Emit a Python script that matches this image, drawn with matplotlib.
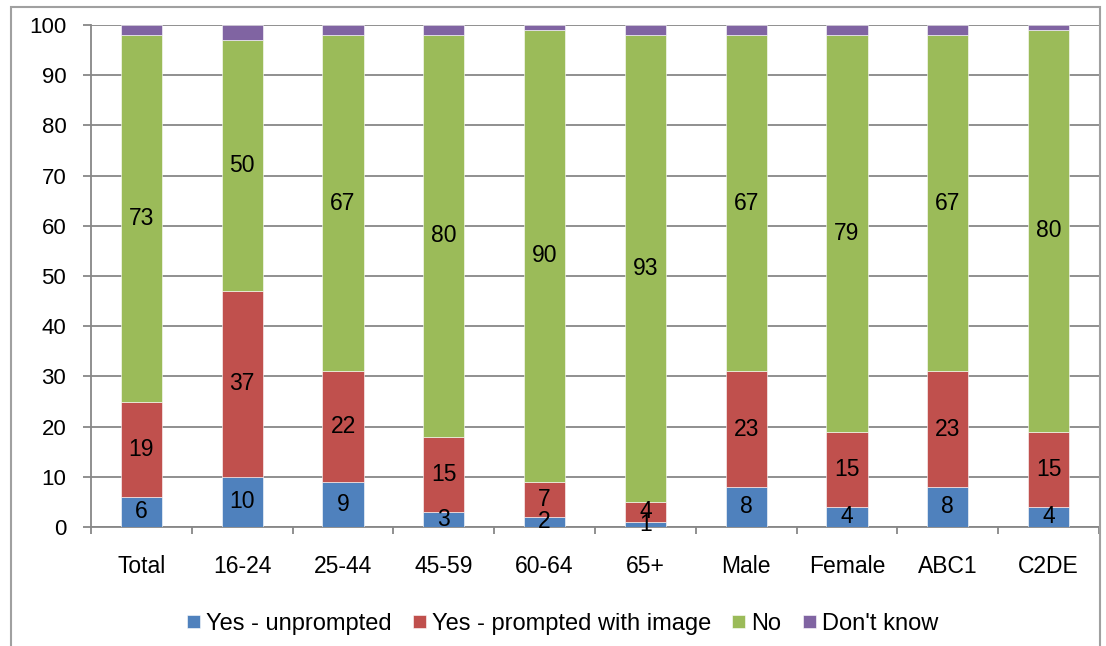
import matplotlib
matplotlib.use("Agg")
import matplotlib.pyplot as plt
from matplotlib.patches import Rectangle
import numpy as np

plt.rcParams['font.family'] = ['Liberation Sans', 'DejaVu Sans']

categories = ["Total", "16-24", "25-44", "45-59", "60-64", "65+", "Male", "Female", "ABC1", "C2DE"]
series_names = ["Yes - unprompted", "Yes - prompted with image", "No", "Don't know"]
unprompted = [6, 10, 9, 3, 2, 1, 8, 4, 8, 4]
prompted = [19, 37, 22, 15, 7, 4, 23, 15, 23, 15]
no = [73, 50, 67, 80, 90, 93, 67, 79, 67, 80]
dont_know = [2, 3, 2, 2, 1, 2, 2, 2, 2, 1]
colors = ["#4F81BD", "#C0504D", "#9BBB59", "#8064A2"]

fig = plt.figure(figsize=(11.06, 6.46), dpi=100)
ax = fig.add_axes([91 / 1106, 1 - 527 / 646, 1008 / 1106, 502 / 646])

x = np.arange(len(categories))
grid_col = "#878787"
bottom = np.zeros(len(categories))
all_series = [unprompted, prompted, no, dont_know]
for vals, name, col in zip(all_series, series_names, colors):
    vals = np.array(vals, dtype=float)
    ax.bar(x, vals, width=0.41, bottom=bottom, color=col, label=name,
           edgecolor="#ffffff", linewidth=0.4, zorder=3)
    if name != "Don't know":
        for xi, b, v in zip(x, bottom, vals):
            ax.text(xi, b + v / 2, f"{int(v)}", ha="center", va="center",
                    fontsize=16.5, color="black", zorder=4)
    bottom += vals

ax.set_xlim(-0.5, len(categories) - 0.5)
ax.set_ylim(0, 100)
ax.set_yticks(np.arange(0, 101, 10))
ax.yaxis.grid(True, color=grid_col, linewidth=1.3, zorder=0)
ax.set_axisbelow(True)

ax.set_xticks(x)
ax.set_xticklabels(categories, fontsize=16.5)
ax.set_xticks(np.arange(-0.5, len(categories), 1), minor=True)
ax.tick_params(axis="x", which="major", length=0, pad=20)
ax.tick_params(axis="x", which="minor", length=5, width=1.3, color=grid_col, direction="out")
ax.tick_params(axis="y", length=5.8, width=1.3, color=grid_col, labelsize=16, pad=12)

for s in ["top", "right"]:
    ax.spines[s].set_visible(False)
for s in ["left", "bottom"]:
    ax.spines[s].set_color(grid_col)
    ax.spines[s].set_linewidth(1.3)

fig.legend(loc="center", bbox_to_anchor=(0.5086, 1 - 624 / 646), ncol=4, frameon=False,
           fontsize=17, handlelength=0.55, handleheight=0.5, handletextpad=0.26,
           columnspacing=0.9, borderpad=0, borderaxespad=0)

fig.patches.append(Rectangle((11 / 1106, -0.05), 1089 / 1106, 0.05 + 1 - 7 / 646,
                             transform=fig.transFigure, fill=False,
                             edgecolor="#a0a0a0", linewidth=1.5))

fig.savefig("out.png", dpi=100, facecolor="white")
